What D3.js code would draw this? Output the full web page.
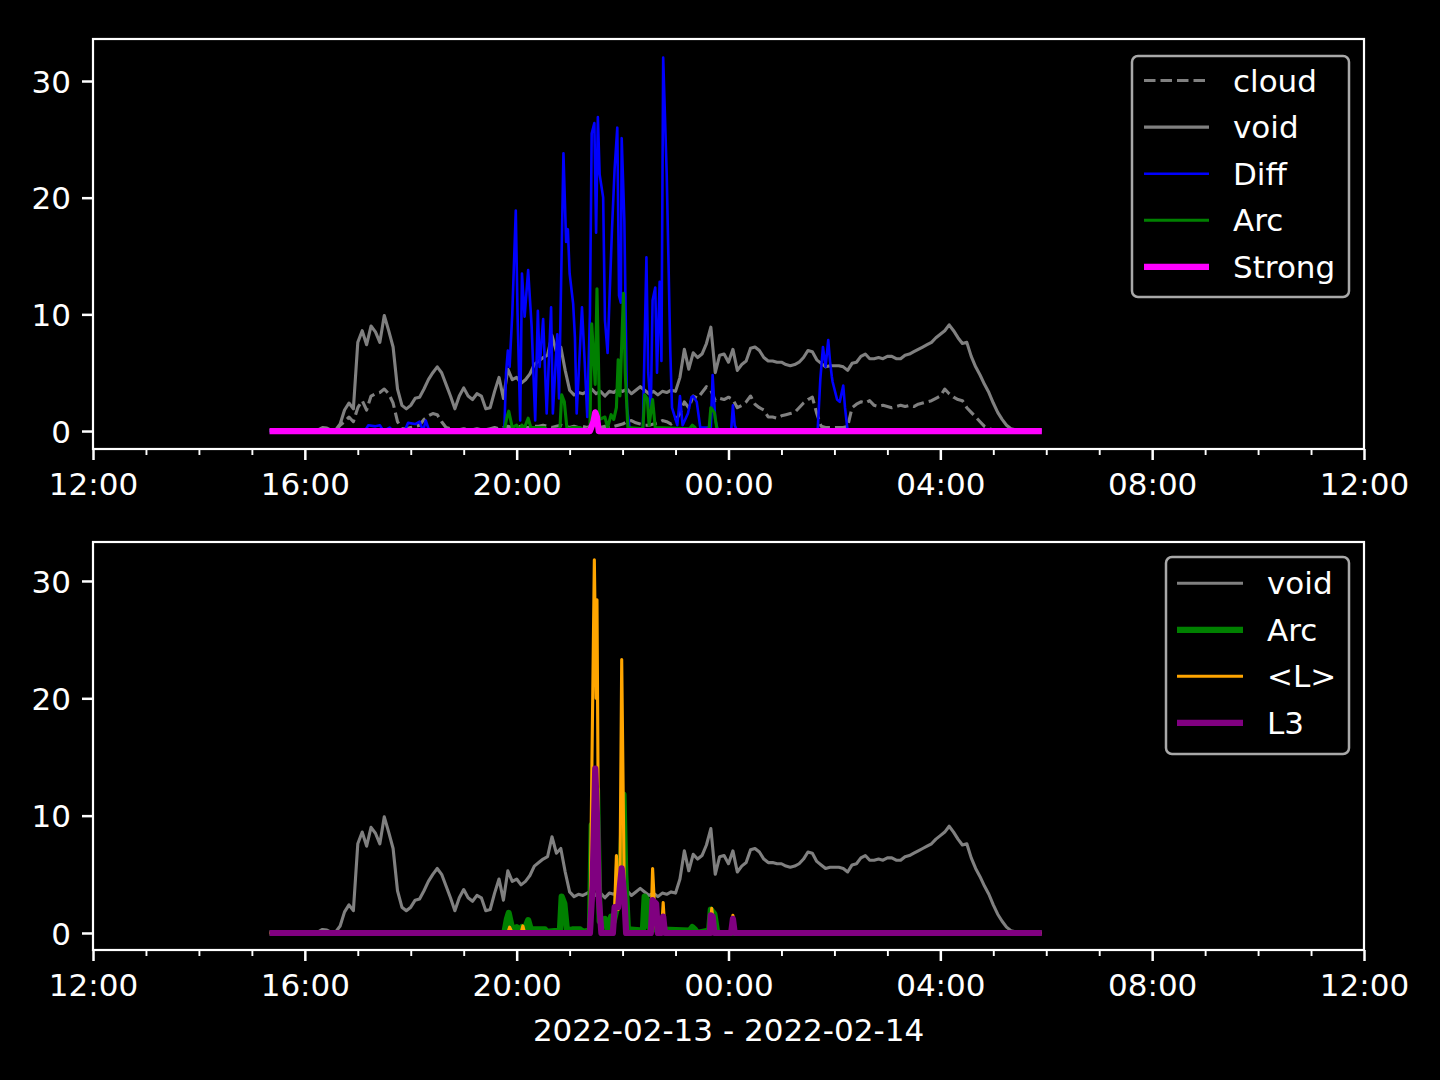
<!DOCTYPE html>
<html><head><meta charset="utf-8">
<script src="https://cdn.jsdelivr.net/npm/d3@7"></script>
<style>
html,body{margin:0;padding:0;background:#000;}
svg{display:block;}
text{font-family:"DejaVu Sans",sans-serif;fill:#fff;}
</style></head>
<body>
<svg id="chart" width="1440" height="1080"></svg>
<script>
// ---------------- data ----------------
const xDomain = ["12:00", "12:00+1"];
const xTickLabels = ["12:00","16:00","20:00","00:00","04:00","08:00","12:00"];
const yTickValues = [0, 10, 20, 30];
const xLabel = "2022-02-13 - 2022-02-14";

// regular 5-minute grid for the slowly varying series
const gridStart = "15:20";
const gridStepMinutes = 5;

const voidValues = [
  0.05,0.05,0.05,0.05,0.05,0.05,0.05,0.1,0.1,0.05,
  0.05,0.1,0.3,0.25,0.05,0.1,0.6,1.8,2.4,1.9,
  7.6,8.6,7.4,9.0,8.5,7.6,9.9,8.6,7.2,3.6,
  2.2,1.9,2.2,2.8,2.9,3.6,4.4,5.0,5.5,5.0,
  4.0,3.0,1.9,3.0,3.7,3.0,2.7,3.2,3.0,1.9,
  2.0,3.4,4.6,2.8,5.3,4.4,4.6,4.1,4.4,4.9,
  5.7,6.0,6.3,6.5,8.2,6.8,7.2,5.2,3.5,3.1,
  3.3,3.2,3.4,3.6,3.2,3.4,3.0,3.4,3.3,3.6,
  3.4,3.6,3.2,3.5,3.8,3.5,3.2,3.4,3.1,3.4,
  3.3,3.5,3.4,4.6,7.0,5.3,6.7,6.3,6.6,7.5,
  8.9,5.0,6.5,6.6,5.9,7.0,5.2,5.7,6.0,7.1,
  7.2,6.9,6.3,6.0,6.0,5.9,5.9,5.7,5.6,5.7,
  5.9,6.3,6.9,6.8,6.1,5.8,5.5,5.6,5.6,5.6,
  5.5,5.2,5.8,5.9,6.4,6.6,6.2,6.2,6.3,6.2,
  6.4,6.4,6.2,6.2,6.5,6.6,6.8,7.0,7.2,7.4,
  7.6,8.0,8.3,8.6,9.1,8.6,8.0,7.5,7.6,6.4,
  5.5,4.8,4.0,3.3,2.4,1.6,1.0,0.5,0.2,0.1,
  0.05,0.05,0.05,0.05,0.05,0.05
];

const cloudValues = [
  0.02,0.02,0.02,0.02,0.02,0.02,0.02,0.02,0.02,0.02,
  0.02,0.02,0.1,0.1,0.02,0.05,0.5,0.8,1.2,0.8,
  2.0,2.6,1.8,3.0,3.2,3.3,3.6,3.2,2.4,0.8,
  0.2,0.2,0.3,0.4,0.5,1.0,1.3,1.5,1.4,0.8,
  0.3,0.2,0.1,0.1,0.2,0.1,0.1,0.2,0.1,0.1,
  0.2,0.3,0.2,0.3,0.4,0.3,0.3,0.4,0.3,0.3,
  0.4,0.4,0.5,0.4,0.3,0.4,0.5,0.4,0.3,0.4,
  0.3,0.4,0.3,0.5,0.4,0.3,0.4,0.3,0.4,0.5,
  0.6,0.8,0.9,0.7,0.6,0.5,0.5,0.6,0.7,0.9,
  0.8,0.6,0.9,1.5,2.5,2.0,3.0,2.8,3.3,3.8,
  3.5,2.6,2.8,2.7,2.9,2.7,2.0,2.2,2.5,3.0,
  2.3,2.0,1.8,1.2,1.2,1.1,1.3,1.4,1.5,1.6,
  2.0,2.4,2.7,2.9,1.5,0.4,0.3,0.3,0.3,0.3,
  0.3,0.4,2.0,2.3,2.5,2.4,2.6,2.2,2.1,2.2,
  2.1,2.0,2.1,2.2,2.1,2.2,2.1,2.3,2.4,2.5,
  2.6,2.8,3.0,3.6,3.2,2.9,2.7,2.6,2.0,1.6,
  1.2,0.8,0.4,0.2,0.1,0.05,0.05,0.05,0.05,0.05,
  0.05,0.05,0.05,0.05,0.05,0.05
];

// spiky series: [time, value]
const diffPoints = [
  ["15:20",0],["17:08",0],["17:12",0.5],["17:20",0.4],["17:25",0.5],["17:29",0],["17:36",0.3],["17:40",0],
  ["17:53",0],["17:57",0.7],["18:05",0.6],["18:10",0.8],["18:14",0],["18:17",0.9],["18:21",0],
  ["19:46",0],["19:48",5.0],["19:50",6.9],["19:52",5.5],["19:55",10.0],["19:59",18.9],["20:01",10.0],
  ["20:04",0.9],["20:06",13.5],["20:09",9.8],["20:13",13.8],["20:17",8.9],["20:21",0.9],["20:24",10.3],
  ["20:26",5.5],["20:30",9.6],["20:34",1.5],["20:39",10.6],["20:41",1.5],["20:46",8.3],["20:48",2.8],
  ["20:51",15.5],["20:53",23.8],["20:56",16.2],["20:58",17.3],["21:00",13.5],["21:04",10.9],["21:06",8.0],
  ["21:08",1.5],["21:14",10.6],["21:17",6.0],["21:20",1.2],["21:23",10.0],["21:25",25.5],["21:28",26.4],
  ["21:30",17.0],["21:32",26.9],["21:34",22.0],["21:38",20.0],["21:40",9.5],["21:43",6.7],["21:48",17.3],
  ["21:51",22.5],["21:54",26.0],["21:56",11.6],["21:58",11.0],["21:59",25.1],["22:02",18.0],["22:05",2.0],
  ["22:08",0.2],["22:23",0.2],["22:27",14.9],["22:29",5.0],["22:32",2.0],["22:34",11.2],["22:37",12.3],
  ["22:39",5.0],["22:42",12.8],["22:44",6.0],["22:46",32.0],["22:50",22.0],["22:54",7.0],["22:56",2.0],
  ["23:02",0.5],["23:05",3.0],["23:08",0.5],["23:14",1.5],["23:18",2.9],["23:20",3.0],["23:24",2.5],
  ["23:28",0.3],["23:40",0.3],["23:42",4.8],["23:45",1.0],["23:48",0],["00:03",0],["00:05",2.2],
  ["00:07",0.5],["00:10",0],["01:41",0],["01:44",4.4],["01:47",7.2],["01:50",5.5],["01:53",7.8],
  ["01:55",6.0],["01:57",4.7],["01:58",4.2],["02:03",2.7],["02:06",2.5],["02:10",3.9],["02:12",2.0],
  ["02:15",0],["05:55",0]
];

const arcPoints = [
  ["15:20",0],["19:46",0],["19:49",1.2],["19:51",1.7],["19:55",0.3],["20:00",0.5],["20:03",0.1],
  ["20:06",0.5],["20:08",0.1],["20:13",1.1],["20:16",0.3],["20:32",0.3],["20:34",0.1],["20:49",0.2],
  ["20:51",3.1],["20:54",2.5],["20:57",0.2],["21:03",0.3],["21:12",0.3],["21:15",0.1],["21:23",0.2],
  ["21:25",9.2],["21:29",4.0],["21:31",12.2],["21:34",1.0],["21:40",1.2],["21:43",0.3],["21:47",1.4],
  ["21:50",1.0],["21:53",2.0],["21:55",6.1],["21:57",3.0],["22:01",11.8],["22:03",5.0],["22:06",0.3],
  ["22:23",0.2],["22:25",3.1],["22:28",2.8],["22:30",0.5],["22:34",2.7],["22:37",0.3],["23:16",0.2],
  ["23:19",0.5],["23:22",0.3],["23:24",0],["23:38",0.2],["23:40",2.0],["23:44",1.6],["23:47",0.1],
  ["23:50",0],["05:55",0]
];

const strongPoints = [
  ["15:20",0],["21:23",0],["21:27",0.8],["21:29",1.6],["21:31",1.2],["21:33",0],["05:55",0]
];

const meanLPoints = [
  ["15:20",0],["19:50",0],["19:52",0.5],["19:55",0],["20:05",0],["20:07",0.6],["20:09",0],
  ["21:23",0],["21:28",31.8],["21:30",20.0],["21:31",28.4],["21:33",3.0],["21:36",0],
  ["21:50",0],["21:53",6.6],["21:55",2.0],["21:57",4.0],["21:59",23.3],["22:02",3.0],["22:04",0],
  ["22:32",0],["22:34",5.5],["22:37",1.0],["22:39",0],["22:44",0],["22:46",2.6],["22:48",0],
  ["23:39",0],["23:41",2.1],["23:44",0],["00:03",0],["00:05",1.5],["00:07",0],["05:55",0]
];

const l3Points = [
  ["15:20",0],["21:23",0],["21:26",4.0],["21:29",14.0],["21:31",10.0],["21:33",3.0],["21:36",0],
  ["21:49",0],["21:51",2.2],["21:55",2.2],["21:57",4.0],["21:59",5.5],["22:02",3.0],["22:04",0],
  ["22:32",0],["22:34",2.8],["22:38",2.5],["22:40",0],["22:44",0],["22:46",1.4],["22:48",0],
  ["23:39",0],["23:40",1.5],["23:42",1.4],["23:44",0],["00:03",0],["00:05",1.2],["00:07",0],["05:55",0]
];

const topLegendLabels = ["cloud","void","Diff","Arc","Strong"];
const bottomLegendLabels = ["void","Arc","<L>","L3"];

// ---------------- helpers ----------------
function parseT(s) {
  const next = s.endsWith("+1");
  const [h, m] = s.replace("+1","").split(":").map(Number);
  const day = (next || h < 12) ? 14 : 13;
  return new Date(Date.UTC(2022, 1, day, h, m));
}
const t0 = parseT(gridStart);
const gridSeries = vals => vals.map((v, i) => ({t: d3.utcMinute.offset(t0, i * gridStepMinutes), v}));
const pairSeries = pts => pts.map(([s, v]) => ({t: parseT(s), v}));

const voidS = gridSeries(voidValues);
const cloudS = gridSeries(cloudValues);
const diffS = pairSeries(diffPoints);
const arcS = pairSeries(arcPoints);
const strongS = pairSeries(strongPoints);
const meanLS = pairSeries(meanLPoints);
const l3S = pairSeries(l3Points);

// ---------------- layout ----------------
const svg = d3.select("#chart");
svg.append("rect").attr("width",1440).attr("height",1080).attr("fill","#000");

const L = 93, R = 1364;
const panels = [
  {top: 39, bottom: 449, yDom: [-1.54, 33.6]},
  {top: 542, bottom: 950, yDom: [-1.45, 33.32]}
];

const x = d3.scaleUtc().domain([parseT(xDomain[0]), parseT(xDomain[1])]).range([L, R]);
const majorTicks = xTickLabels.map((s, i) => d3.utcHour.offset(parseT(xDomain[0]), i * 4));
const minorTicks = d3.utcHour.range(parseT(xDomain[0]), d3.utcMinute.offset(parseT(xDomain[1]), 1)).filter(d => d.getUTCHours() % 4 !== 0);

const FS = 31;

function drawPanel(p, idx, series, legend) {
  const y = d3.scaleLinear().domain(p.yDom).range([p.bottom, p.top]);
  const g = svg.append("g");
  const clipId = "clip" + idx;
  svg.append("clipPath").attr("id", clipId).append("rect")
    .attr("x", L).attr("y", p.top).attr("width", R - L).attr("height", p.bottom - p.top);

  const lines = g.append("g").attr("clip-path", `url(#${clipId})`);
  const line = d3.line().x(d => x(d.t)).y(d => y(d.v));
  series.forEach(s => {
    lines.append("path").datum(s.data)
      .attr("d", line)
      .attr("fill", "none")
      .attr("stroke", s.color)
      .attr("stroke-width", s.width)
      .attr("stroke-linejoin", "round")
      .attr("stroke-linecap", "butt")
      .attr("stroke-dasharray", s.dash || null);
  });

  // x axis major
  const xAxis = d3.axisBottom(x).tickValues(majorTicks)
    .tickFormat((d, i) => xTickLabels[i]).tickSize(11).tickPadding(13).tickSizeOuter(0);
  const gx = g.append("g").attr("transform", `translate(0,${p.bottom})`).call(xAxis);
  gx.select(".domain").remove();
  gx.selectAll(".tick line").attr("stroke", "#fff").attr("stroke-width", 2.5);
  gx.selectAll(".tick text").attr("font-size", FS).attr("font-family", "DejaVu Sans").attr("fill", "#fff");

  // x axis minor
  const xMinor = d3.axisBottom(x).tickValues(minorTicks).tickFormat("").tickSize(6).tickSizeOuter(0);
  const gxm = g.append("g").attr("transform", `translate(0,${p.bottom})`).call(xMinor);
  gxm.select(".domain").remove();
  gxm.selectAll(".tick line").attr("stroke", "#fff").attr("stroke-width", 1.9);

  // y axis
  const yAxis = d3.axisLeft(y).tickValues(yTickValues).tickFormat(d3.format("d"))
    .tickSize(11).tickPadding(11).tickSizeOuter(0);
  const gy = g.append("g").attr("transform", `translate(${L},0)`).call(yAxis);
  gy.select(".domain").remove();
  gy.selectAll(".tick line").attr("stroke", "#fff").attr("stroke-width", 2.5);
  gy.selectAll(".tick text").attr("font-size", FS).attr("font-family", "DejaVu Sans").attr("fill", "#fff")
    .attr("dy", "0.36em");

  // frame
  g.append("rect").attr("x", L).attr("y", p.top).attr("width", R - L).attr("height", p.bottom - p.top)
    .attr("fill", "none").attr("stroke", "#fff").attr("stroke-width", 2.2);

  // legend
  const lg = g.append("g");
  lg.append("rect").attr("x", legend.x0).attr("y", legend.y0)
    .attr("width", legend.x1 - legend.x0).attr("height", legend.y1 - legend.y0)
    .attr("rx", 6).attr("ry", 6)
    .attr("fill", "#000").attr("fill-opacity", 0.8)
    .attr("stroke", "#a8a8a8").attr("stroke-width", 2.5);
  legend.labels.forEach((lab, i) => {
    const s = series[i];
    const yy = legend.rowY0 + i * legend.rowStep;
    lg.append("line").attr("x1", legend.hx0).attr("x2", legend.hx1).attr("y1", yy).attr("y2", yy)
      .attr("stroke", s.color).attr("stroke-width", s.width).attr("stroke-dasharray", s.dash || null);
    lg.append("text").attr("x", legend.tx).attr("y", yy + 11).attr("font-size", FS).text(lab);
  });
  return y;
}

drawPanel(panels[0], 0, [
  {data: cloudS, color: "#808080", width: 3.1, dash: "11.5,5"},
  {data: voidS, color: "#808080", width: 3.1},
  {data: diffS, color: "#0000ff", width: 2.6},
  {data: arcS, color: "#008000", width: 3.1},
  {data: strongS, color: "#ff00ff", width: 6.2}
], {x0: 1132, x1: 1349, y0: 56, y1: 297, rowY0: 80.5, rowStep: 46.6, hx0: 1144, hx1: 1209, tx: 1233,
    labels: topLegendLabels});

drawPanel(panels[1], 1, [
  {data: voidS, color: "#808080", width: 3.1},
  {data: arcS, color: "#008000", width: 6.2},
  {data: meanLS, color: "#ffa500", width: 3.1},
  {data: l3S, color: "#800080", width: 6.2}
], {x0: 1166, x1: 1349, y0: 557, y1: 754, rowY0: 583.3, rowStep: 46.5, hx0: 1177, hx1: 1243, tx: 1267,
    labels: bottomLegendLabels});

svg.append("text").attr("x", (L + R) / 2).attr("y", 1041).attr("text-anchor", "middle")
  .attr("font-size", FS).text(xLabel);
</script>
</body></html>
